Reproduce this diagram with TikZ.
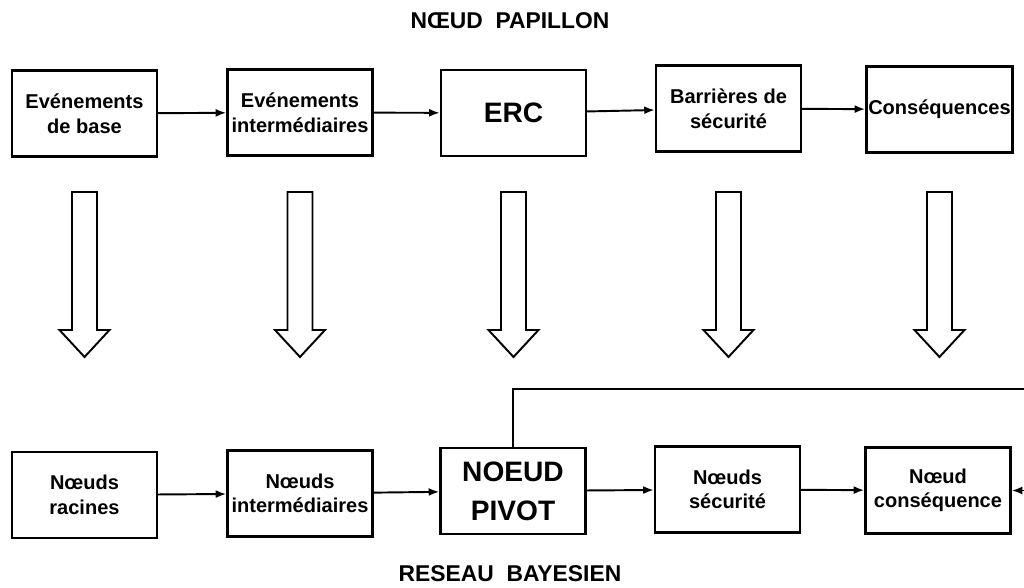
\documentclass[tikz,border=0pt]{standalone}
\usepackage{fontspec}
\setmainfont{Liberation Sans}
\usetikzlibrary{arrows.meta,calc}

\begin{document}
\begin{tikzpicture}[
    box/.style={draw, line width=1.4pt, minimum width=2.9cm,
                minimum height=1.72cm, align=center, inner sep=1pt,
                font=\fontsize{11.4}{14}\selectfont\bfseries},
    bigbox/.style={box, font=\fontsize{16}{22}\selectfont\bfseries},
    arr/.style={-{Latex[length=6pt,width=4.5pt]}, line width=1.1pt},
    hollow/.style={draw, line width=1.1pt, fill=white, line join=miter},
    title/.style={font=\fontsize{13}{15}\selectfont\bfseries}
]
  \useasboundingbox (0,0) rectangle (20.48,-11.76);

  \node[title] (ntop) at (10.2,-0.42) {NŒUD\ \ PAPILLON};
  \node[title] (nbot) at (10.2,-11.48) {RESEAU\ \ BAYESIEN};

  % noeud papillon
  \node[box] (b1) at (1.69,-2.27) {Evénements\\de base};
  \node[box] (b2) at (6.0,-2.25) {Evénements\\intermédiaires};
  \node[bigbox] (b3) at (10.27,-2.26) {ERC};
  \node[box] (b4) at (14.57,-2.17) {Barrières de\\sécurité};
  \node[box] (b5) at (18.79,-2.19) {Conséquences};

  \draw[arr] (b1) -- (b2);
  \draw[arr] (b2) -- (b3);
  \draw[arr] (b3) -- (b4);
  \draw[arr] (b4) -- (b5);

  % reseau bayesien
  \node[box] (c1) at (1.69,-9.9) {Nœuds\\racines};
  \node[box] (c2) at (6.0,-9.87) {Nœuds\\intermédiaires};
  \node[bigbox] (c3) at (10.26,-9.82) {NOEUD\\PIVOT};
  \node[box] (c4) at (14.55,-9.79) {Nœuds\\sécurité};
  \node[box] (c5) at (18.76,-9.81) {Nœud\\conséquence};

  \draw[arr] (c1) -- (c2);
  \draw[arr] (c2) -- (c3);
  \draw[arr] (c3) -- (c4);
  \draw[arr] (c4) -- (c5);
  \draw[arr] (c3.north) |- (21,-7.78) |- (c5.east);

  \foreach \k in {1,...,5}
    \draw[hollow] let \p1=(b\k.south) in
      (\x1-0.25cm,-3.84cm) -- (\x1+0.25cm,-3.84cm) -- (\x1+0.25cm,-6.6cm)
      -- (\x1+0.5cm,-6.6cm) -- (\x1,-7.14cm) -- (\x1-0.5cm,-6.6cm)
      -- (\x1-0.25cm,-6.6cm) -- cycle;
\end{tikzpicture}
\end{document}
